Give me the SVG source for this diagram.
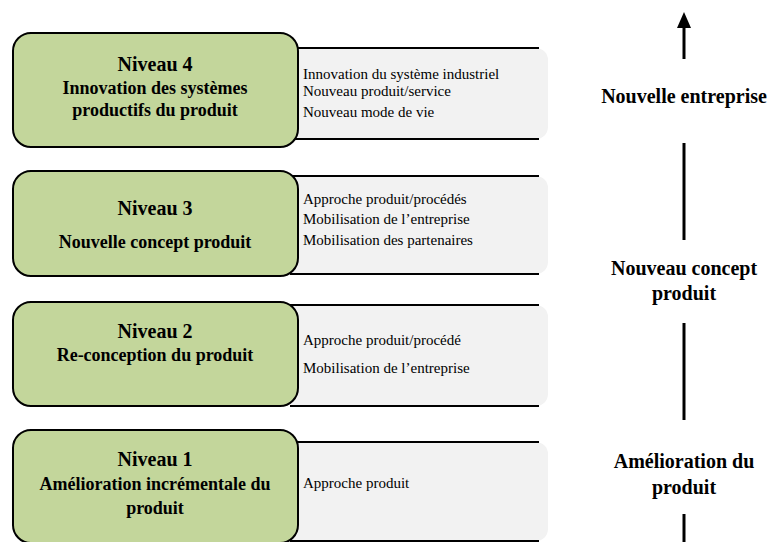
<svg xmlns="http://www.w3.org/2000/svg" width="770" height="542" viewBox="0 0 770 542">
<style>
.green{fill:#c3d69b;stroke:#000;stroke-width:2}
.gray{fill:#f2f2f2;stroke:none}
.edge{stroke:#000;stroke-width:2}
.h{font-size:20px;font-weight:bold;text-anchor:middle}
.s{font-size:18px;font-weight:bold;text-anchor:middle}
.d{font-size:15px}
.r{font-size:20px;font-weight:bold;text-anchor:middle}
.ax{stroke:#000;stroke-width:3}
</style>
<rect width="770" height="542" fill="#fff"/>
<g font-family="'Liberation Serif', 'DejaVu Serif', serif" fill="#000">
<g id="level4">
<rect class="gray" x="285" y="48" width="263" height="91" rx="12"/>
<line class="edge" x1="290" y1="48" x2="539" y2="48"/>
<line class="edge" x1="290" y1="139" x2="539" y2="139"/>
<rect class="green" x="13" y="33" width="285" height="114" rx="18"/>
<text class="h" x="155" y="71">Niveau 4</text>
<text class="s" x="155" y="94">Innovation des systèmes</text>
<text class="s" x="155" y="116">productifs du produit</text>
<text class="d" x="303" y="79">Innovation du système industriel</text>
<text class="d" x="303" y="96">Nouveau produit/service</text>
<text class="d" x="303" y="117">Nouveau mode de vie</text>
</g>
<g id="level3">
<rect class="gray" x="285" y="176" width="263" height="98" rx="12"/>
<line class="edge" x1="290" y1="176" x2="539" y2="176"/>
<line class="edge" x1="290" y1="274" x2="539" y2="274"/>
<rect class="green" x="13" y="171" width="285" height="105" rx="18"/>
<text class="h" x="155" y="215">Niveau 3</text>
<text class="s" x="155" y="248">Nouvelle concept produit</text>
<text class="d" x="303" y="204">Approche produit/procédés</text>
<text class="d" x="303" y="224">Mobilisation de l’entreprise</text>
<text class="d" x="303" y="245">Mobilisation des partenaires</text>
</g>
<g id="level2">
<rect class="gray" x="285" y="305" width="263" height="101" rx="12"/>
<line class="edge" x1="290" y1="305" x2="539" y2="305"/>
<line class="edge" x1="290" y1="406" x2="539" y2="406"/>
<rect class="green" x="13" y="302" width="285" height="104" rx="18"/>
<text class="h" x="155" y="338">Niveau 2</text>
<text class="s" x="155" y="361">Re-conception du produit</text>
<text class="d" x="303" y="345">Approche produit/procédé</text>
<text class="d" x="303" y="373">Mobilisation de l’entreprise</text>
</g>
<g id="level1">
<rect class="gray" x="285" y="442" width="263" height="99" rx="12"/>
<line class="edge" x1="290" y1="442" x2="539" y2="442"/>
<line class="edge" x1="290" y1="541" x2="539" y2="541"/>
<rect class="green" x="13" y="430" width="285" height="113" rx="18"/>
<text class="h" x="155" y="466">Niveau 1</text>
<text class="s" x="155" y="490">Amélioration incrémentale du</text>
<text class="s" x="155" y="514">produit</text>
<text class="d" x="303" y="488">Approche produit</text>
</g>
<g id="connectors">
<polygon points="684,12 677,28 691,28" fill="#000"/>
<line class="ax" x1="684" y1="27" x2="684" y2="59"/>
<line class="ax" x1="684" y1="143" x2="684" y2="240"/>
<line class="ax" x1="684" y1="323" x2="684" y2="420"/>
<line class="ax" x1="684" y1="514" x2="684" y2="542"/>
</g>
<g id="labels">
<text class="r" x="684" y="103">Nouvelle entreprise</text>
<text class="r" x="684" y="275">Nouveau concept</text>
<text class="r" x="684" y="300">produit</text>
<text class="r" x="684" y="468">Amélioration du</text>
<text class="r" x="684" y="494">produit</text>
</g>
</g>
</svg>
